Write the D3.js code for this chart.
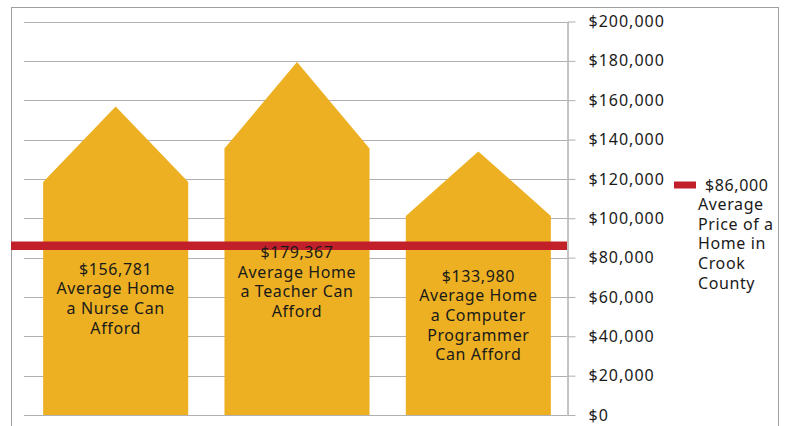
<!DOCTYPE html>
<html>
<head>
<meta charset="utf-8">
<script src="https://cdn.jsdelivr.net/npm/d3@7"></script>
<style>
  body { margin: 0; background: #fff; }
  text { font-family: "Noto Sans", "Open Sans", sans-serif; }
</style>
</head>
<body>
<div id="chart"></div>
<script>
const categories = ["Nurse", "Teacher", "Computer Programmer"];
const values = [156781, 179367, 133980];
const barLabels = [
  ["$156,781", "Average Home", "a Nurse Can", "Afford"],
  ["$179,367", "Average Home", "a Teacher Can", "Afford"],
  ["$133,980", "Average Home", "a Computer", "Programmer", "Can Afford"]
];
const yTicks = [0, 20000, 40000, 60000, 80000, 100000, 120000, 140000, 160000, 180000, 200000];
const avgPrice = 86000;
const legendLines = ["$86,000", "Average", "Price of a", "Home in", "Crook", "County"];

const width = 786;
const height = 426;
const barColor = "#ecb022";
const lineColor = "#c1202b";

const svg = d3.select("#chart").append("svg")
    .attr("width", width)
    .attr("height", height);

// outer frame
svg.append("rect")
    .attr("x", 11.5)
    .attr("y", 7.5)
    .attr("width", 767)
    .attr("height", 440)
    .attr("fill", "none")
    .attr("stroke", "#a0a0a0");

const x = d3.scaleBand()
    .domain(categories)
    .range([25, 569])
    .paddingInner(0.2)
    .paddingOuter(0.1);

const y = d3.scaleLinear()
    .domain([0, 200000])
    .range([415, 21.5]);

const axisX = 567;

// gridlines
svg.append("g")
    .selectAll("line")
    .data(yTicks)
    .join("line")
    .attr("x1", 24)
    .attr("x2", axisX)
    .attr("y1", d => Math.round(y(d)) + 0.5)
    .attr("y2", d => Math.round(y(d)) + 0.5)
    .attr("stroke", "#b0b0b0");

// house-shaped bars: roof starts at 3/4 of the value
const roof = 0.755;
svg.append("g")
    .selectAll("path")
    .data(values)
    .join("path")
    .attr("d", (d, i) => {
        const x0 = x(categories[i]);
        const x1 = x0 + x.bandwidth();
        const xm = (x0 + x1) / 2;
        return `M${x0},${y(0)} L${x0},${y(d * roof)} L${xm},${y(d)} L${x1},${y(d * roof)} L${x1},${y(0)} Z`;
    })
    .attr("fill", barColor);

// axis on the right
const yAxis = svg.append("g")
    .attr("transform", `translate(${axisX + 0.5},0)`)
    .call(d3.axisRight(y)
        .tickValues(yTicks)
        .tickFormat(d3.format("$,"))
        .tickSize(8)
        .tickSizeOuter(0)
        .tickPadding(13));

yAxis.select(".domain").attr("stroke", "#888");
yAxis.selectAll(".tick line").attr("stroke", "#b0b0b0");
yAxis.selectAll(".tick text")
    .attr("font-size", "16px")
    .attr("letter-spacing", "1px")
    .attr("fill", "#1a1a1a")
    .attr("font-family", "'Noto Sans', 'Open Sans', sans-serif");

// average price line
svg.append("line")
    .attr("x1", 11)
    .attr("x2", axisX)
    .attr("y1", y(avgPrice))
    .attr("y2", y(avgPrice))
    .attr("stroke", lineColor)
    .attr("stroke-width", 8.5);

// labels inside the bars, centred between roof and base
const lineH = 19.6;
barLabels.forEach((lines, i) => {
    const cx = x(categories[i]) + x.bandwidth() / 2;
    const cy = (y(values[i] * roof) + y(0)) / 2;
    const top = cy - (lines.length - 1) * lineH / 2;
    svg.append("g")
        .selectAll("text")
        .data(lines)
        .join("text")
        .attr("x", cx)
        .attr("y", (d, j) => top + j * lineH)
        .attr("dy", "0.35em")
        .attr("text-anchor", "middle")
        .attr("font-size", "16px")
        .attr("letter-spacing", "0.6px")
        .attr("fill", "#1a1a1a")
        .text(d => d);
});

// legend
const legend = svg.append("g");
legend.append("rect")
    .attr("x", 674)
    .attr("y", 181.5)
    .attr("width", 22)
    .attr("height", 7)
    .attr("fill", lineColor);

legend.selectAll("text")
    .data(legendLines)
    .join("text")
    .attr("x", (d, i) => i === 0 ? 705 : 698)
    .attr("y", (d, i) => 185 + i * 19.6)
    .attr("dy", "0.35em")
    .attr("font-size", "16px")
    .attr("letter-spacing", "0.6px")
    .attr("fill", "#1a1a1a")
    .text(d => d);
</script>
</body>
</html>
